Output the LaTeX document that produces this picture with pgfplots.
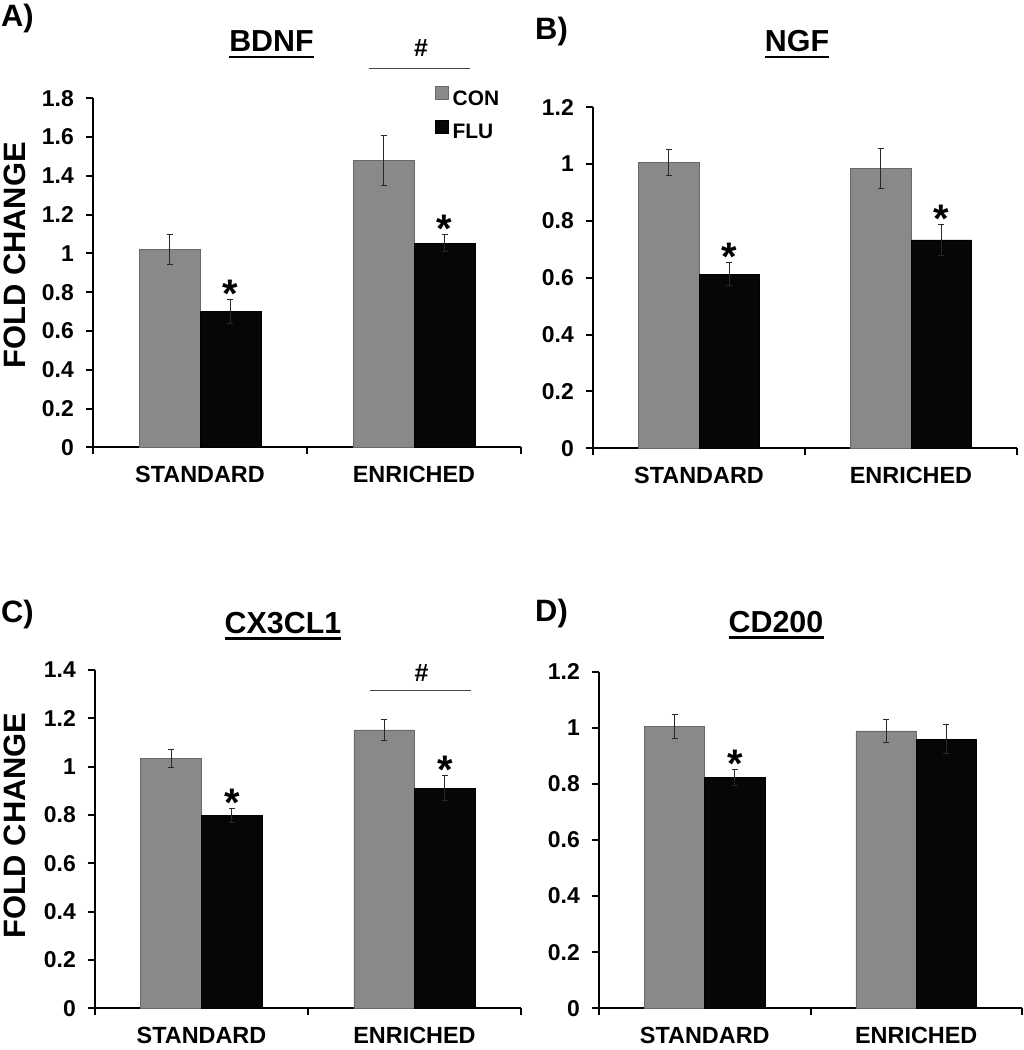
\documentclass[border=0pt]{standalone}
\usepackage{fontspec}
\setmainfont{Liberation Sans}
\usepackage{pgfplots}
\pgfplotsset{compat=1.18}

\definecolor{congray}{RGB}{137,137,137}
\definecolor{conedge}{RGB}{105,105,105}
\definecolor{flublack}{RGB}{6,6,6}
\definecolor{errcol}{RGB}{40,40,40}
\definecolor{sigline}{RGB}{70,70,70}

\newcommand{\fs}[1]{\fontsize{#1}{#1}\selectfont}

\tikzset{astk/.style={font=\bfseries\fs{40}, anchor=base, inner sep=0pt, yshift=-8bp}}

\pgfplotsset{
 panel/.style={
   scale only axis,
   anchor=south west,
   xmin=0, xmax=2, ymin=0,
   axis x line*=bottom, axis y line*=left,
   every non boxed x axis/.append style={x axis line style=-},
   every non boxed y axis/.append style={y axis line style=-},
   axis line style={line width=2bp},
   xtick={0,1,2}, xticklabels={,,},
   extra x ticks={0.5,1.5},
   extra x tick labels={STANDARD,ENRICHED},
   extra x tick style={major tick length=0pt, xticklabel style={inner sep=0pt, yshift=-19bp, font=\bfseries\fs{23.5}}},
   tick align=outside,
   major tick length=7bp,
   every tick/.style={line width=2bp, black},
   /pgf/number format/assume math mode=true,
   ticklabel style={font=\bfseries\fs{23}},
   yticklabel style={inner sep=0pt, xshift=-12bp},
   clip=false,
   ybar=0pt, bar width=0.285,
 },
 con/.style={fill=congray, draw=conedge, line width=0.6bp},
 flu/.style={fill=flublack, draw=black, line width=0.6bp},
 eb/.style={error bars/.cd, y dir=both, y explicit,
   error bar style={line width=1bp, errcol},
   error mark options={rotate=90, mark size=3bp, line width=1bp, errcol}},
}

\begin{document}
\begin{tikzpicture}[x=1bp,y=1bp]
\useasboundingbox (0,0) rectangle (1024,1050);

% ---------------- Panel A: BDNF
\begin{axis}[panel, at={(93bp,602.7bp)}, width=428bp, height=349bp, ymax=1.8,
  ytick={0,0.2,0.4,0.6,0.8,1,1.2,1.4,1.6,1.8},
  ylabel={FOLD CHANGE},
  ylabel style={at={(axis description cs:-0.182,0.55)}, anchor=center, font=\bfseries\fs{31}},
  legend style={at={(axis description cs:0.799,1.035)}, anchor=north west,
    draw=none, fill=none, font=\bfseries\fs{21}, inner sep=0pt,
    row sep=13bp, column sep=4bp, nodes={inner sep=0pt}, cells={anchor=west}},
  legend image code/.code={\draw[#1,/tikz/.cd,line width=0.5bp] (0bp,-1bp) rectangle (13bp,12bp);},
]
\addplot[con, eb] coordinates {(0.5,1.020) +- (0,0.075) (1.5,1.478) +- (0,0.130)};
\addlegendentry{CON}
\addplot[flu, eb] coordinates {(0.5,0.700) +- (0,0.060) (1.5,1.053) +- (0,0.042)};
\addlegendentry{FLU}
\node[astk] at (axis cs:0.6425,0.760) {*};
\node[astk] at (axis cs:1.6425,1.095) {*};
\end{axis}

% ---------------- Panel B: NGF
\begin{axis}[panel, at={(593bp,601.7bp)}, width=424bp, height=341bp, ymax=1.2,
  ytick={0,0.2,0.4,0.6,0.8,1,1.2}]
\addplot[con, eb] coordinates {(0.5,1.006) +- (0,0.045) (1.5,0.985) +- (0,0.070)};
\addplot[flu, eb] coordinates {(0.5,0.613) +- (0,0.041) (1.5,0.733) +- (0,0.054)};
\node[astk] at (axis cs:0.6425,0.654) {*};
\node[astk] at (axis cs:1.6425,0.787) {*};
\end{axis}

% ---------------- Panel C: CX3CL1
\begin{axis}[panel, at={(95bp,41.7bp)}, width=426bp, height=338.3bp, ymax=1.4,
  ytick={0,0.2,0.4,0.6,0.8,1,1.2,1.4},
  ylabel={FOLD CHANGE},
  ylabel style={at={(axis description cs:-0.188,0.54)}, anchor=center, font=\bfseries\fs{31}}]
\addplot[con, eb] coordinates {(0.5,1.034) +- (0,0.037) (1.5,1.152) +- (0,0.045)};
\addplot[flu, eb] coordinates {(0.5,0.797) +- (0,0.028) (1.5,0.910) +- (0,0.052)};
\node[astk] at (axis cs:0.6425,0.825) {*};
\node[astk] at (axis cs:1.6425,0.962) {*};
\end{axis}

% ---------------- Panel D: CD200
\begin{axis}[panel, at={(599bp,41.7bp)}, width=423bp, height=336.6bp, ymax=1.2,
  ytick={0,0.2,0.4,0.6,0.8,1,1.2}]
\addplot[con, eb] coordinates {(0.5,1.004) +- (0,0.042) (1.5,0.989) +- (0,0.042)};
\addplot[flu, eb] coordinates {(0.5,0.823) +- (0,0.027) (1.5,0.960) +- (0,0.051)};
\node[astk] at (axis cs:0.6425,0.850) {*};
\end{axis}

% ---------------- Titles and panel letters
\foreach \x/\y/\t/\n in {271.5/998/BDNF/tA, 797/998/NGF/tB, 283/416.7/CX3CL1/tC, 776/417.3/CD200/tD}{
  \node[font=\bfseries\fs{30.5}, anchor=base, inner sep=0pt] (\n) at (\x,\y) {\t};
  \draw[line width=2.8bp] ([yshift=-5bp]\n.base west) -- ([yshift=-5bp]\n.base east);
}
\node[font=\bfseries\fs{31}, anchor=base west, inner sep=0pt] at (1,1023) {A)};
\node[font=\bfseries\fs{31}, anchor=base west, inner sep=0pt] at (535,1010) {B)};
\node[font=\bfseries\fs{31}, anchor=base west, inner sep=0pt] at (1,427) {C)};
\node[font=\bfseries\fs{31}, anchor=base west, inner sep=0pt] at (535,428) {D)};

% ---------------- # significance bars
\draw[sigline, line width=1.3bp] (369,981.7) -- (470,981.7);
\node[font=\bfseries\fs{25}, anchor=base, inner sep=0pt] at (421,993) {\#};
\draw[sigline, line width=1.3bp] (370,359.3) -- (471,359.3);
\node[font=\bfseries\fs{25}, anchor=base, inner sep=0pt] at (421.5,368.3) {\#};
\end{tikzpicture}
\end{document}
